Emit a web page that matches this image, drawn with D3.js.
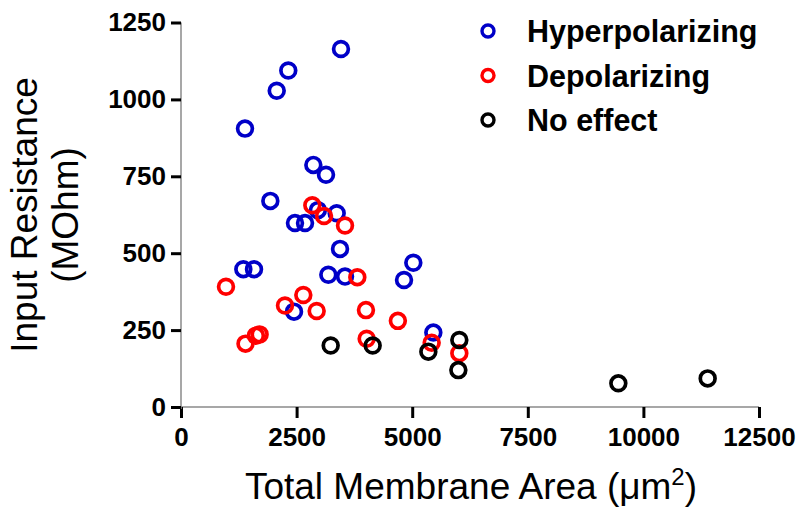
<!DOCTYPE html>
<html>
<head>
<meta charset="utf-8">
<script src="https://cdn.jsdelivr.net/npm/d3@7"></script>
<style>
  body { margin: 0; background: #fff; }
  text { font-family: "Liberation Sans", Arial, sans-serif; }
</style>
</head>
<body>
<div id="chart"></div>
<script>
const [svgW, svgH] = [800, 511];

// data: [area um2, resistance MOhm]
var hyperX = [3460, 2320, 2070, 1384, 2862, 3136, 1932, 2960, 3367, 2465, 2682, 3439, 1348, 1579, 3186, 3547, 5024, 4823, 2444, 5457];
var hyperY = [1164, 1094, 1028, 905, 787, 755, 670, 640, 630, 598, 598, 514, 448, 448, 430, 424, 469, 413, 310, 242];
var depolX = [2840, 3093, 3547, 973, 3813, 2645, 2249, 2934, 4000, 4690, 1395, 1620, 1700, 4015, 5421, 6019];
var depolY = [656, 621, 590, 391, 422, 364, 330, 312, 315, 280, 206, 232, 236, 222, 209, 175];
var noneX = [3237, 4145, 5349, 6019, 5998, 9458, 11390];
var noneY = [200, 200, 180, 218, 120, 77, 93];

var seriesNames = ["Hyperpolarizing", "Depolarizing", "No effect"];
var seriesColors = ["#0000c8", "#ff0000", "#000000"];
var xTicks = [0, 2500, 5000, 7500, 10000, 12500];
var yTicks = [0, 250, 500, 750, 1000, 1250];

var x = d3.scaleLinear().domain([0, 12500]).range([181, 759]);
var y = d3.scaleLinear().domain([0, 1250]).range([407, 22.5]);

var svg = d3.select("#chart").append("svg").attr("width", svgW).attr("height", svgH);

// axes
var xAxis = svg.append("g").attr("transform", "translate(0,407)")
    .call(d3.axisBottom(x).tickValues(xTicks).tickSize(11).tickPadding(10).tickFormat(d3.format("d")));
var yAxis = svg.append("g").attr("transform", "translate(181,0)")
    .call(d3.axisLeft(y).tickValues(yTicks).tickSize(10).tickPadding(5).tickFormat(d3.format("d")));

[xAxis, yAxis].forEach(function (g) {
    g.select(".domain").attr("stroke", "#8a8a8a").attr("stroke-width", 1.5);
    g.selectAll(".tick line").attr("stroke", "#000").attr("stroke-width", 3);
    g.selectAll(".tick text").attr("fill", "#000").style("font-size", "26px").style("font-weight", "bold");
});
xAxis.select(".domain").attr("d", "M181,0H759");
yAxis.select(".domain").attr("d", "M0,22.5V409");

// axis titles
svg.append("text").attr("x", 471).attr("y", 499).attr("text-anchor", "middle")
    .style("font-size", "37px")
    .html('Total Membrane Area (μm<tspan dy="-14" font-size="24px">2</tspan><tspan dy="14">)</tspan>');

var yTitle = svg.append("text").attr("transform", "translate(0,215) rotate(-90)")
    .attr("text-anchor", "middle").style("font-size", "37px");
yTitle.append("tspan").attr("x", 0).attr("y", 37).text("Input Resistance");
yTitle.append("tspan").attr("x", 0).attr("y", 78).text("(MOhm)");

// points
var series = [
    d3.zip(hyperX, hyperY),
    d3.zip(depolX, depolY),
    d3.zip(noneX, noneY)
];

series.forEach(function (pts, i) {
    svg.append("g").selectAll("circle").data(pts).join("circle")
        .attr("cx", d => x(d[0]))
        .attr("cy", d => y(d[1]))
        .attr("r", 7.4)
        .attr("fill", "none")
        .attr("stroke", seriesColors[i])
        .attr("stroke-width", 3.7);
});

// legend
var legend = svg.append("g").selectAll("g").data(seriesNames).join("g")
    .attr("transform", (d, i) => "translate(488," + (31 + i * 44.5) + ")");
legend.append("circle").attr("r", 6).attr("fill", "none")
    .attr("stroke", (d, i) => seriesColors[i]).attr("stroke-width", 3.4);
legend.append("text").attr("x", 39).attr("y", 11)
    .style("font-size", "30.5px").style("font-weight", "bold").text(d => d);
</script>
</body>
</html>
